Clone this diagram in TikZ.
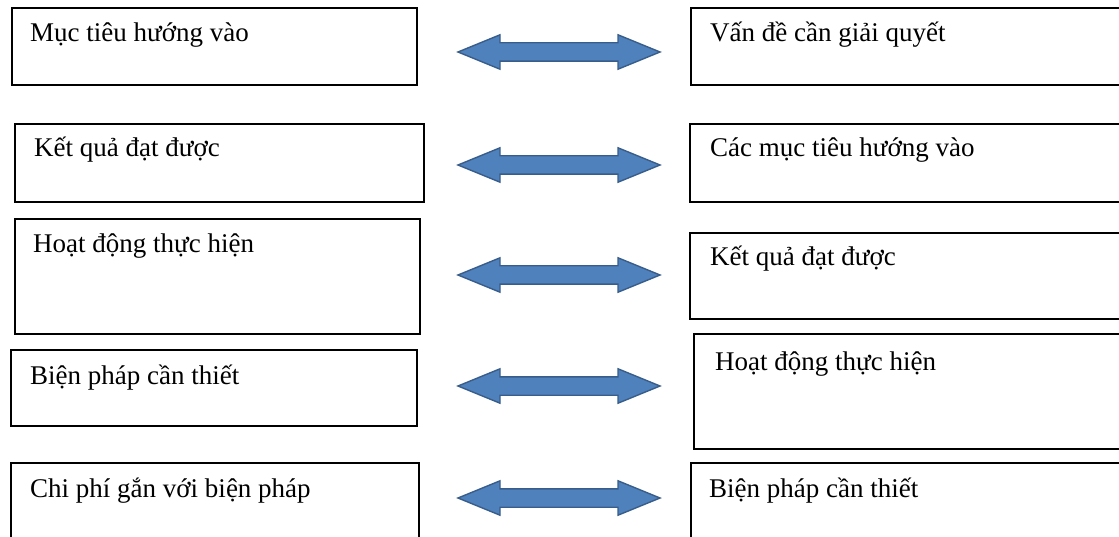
\documentclass[tikz,border=0pt]{standalone}
\usepackage{fontspec}
\setmainfont{Liberation Serif}
\definecolor{arrowfill}{HTML}{4F81BD}
\definecolor{arrowline}{HTML}{385D8A}
\begin{document}
\begin{tikzpicture}[x=1pt,y=-1pt,
  box/.style={draw=black, line width=1.8pt, rectangle, inner sep=0pt, anchor=north west},
  txt/.style={anchor=base west, inner sep=0pt, font=\fontsize{27}{32}\selectfont},
  dbl/.pic={
    \filldraw[fill=arrowfill, draw=arrowline, line width=1.4pt, line join=miter]
      (-101,0) -- (-59,-17.2) -- (-59,-9.2) -- (59,-9.2) -- (59,-17.2)
      -- (101,0) -- (59,17.2) -- (59,9.2) -- (-59,9.2) -- (-59,17.2) -- cycle;
  }]
\useasboundingbox (0,0) rectangle (1119,537);
\clip (0,0) rectangle (1119,537);

% left column
\node[box, minimum width=405, minimum height=77]  (l1) at (11,7)   {};
\node[box, minimum width=409, minimum height=78]  (l2) at (14,123) {};
\node[box, minimum width=405, minimum height=115] (l3) at (14,218) {};
\node[box, minimum width=406, minimum height=76]  (l4) at (10,349) {};
\node[box, minimum width=408, minimum height=90]  (l5) at (10,462) {};

% right column (runs past the right edge)
\node[box, minimum width=440, minimum height=77]  (r1) at (690,7)   {};
\node[box, minimum width=440, minimum height=78]  (r2) at (689,123) {};
\node[box, minimum width=440, minimum height=86]  (r3) at (689,232) {};
\node[box, minimum width=440, minimum height=115] (r4) at (693,333) {};
\node[box, minimum width=440, minimum height=90]  (r5) at (690,462) {};

% labels
\node[txt] (l1t) at ([xshift=19pt,yshift=-35pt]l1.north west) {Mục tiêu hướng vào};
\node[txt] (l2t) at ([xshift=20pt,yshift=-34pt]l2.north west) {Kết quả đạt được};
\node[txt] (l3t) at ([xshift=19pt,yshift=-35pt]l3.north west) {Hoạt động thực hiện};
\node[txt] (l4t) at ([xshift=20pt,yshift=-35pt]l4.north west) {Biện pháp cần thiết};
\node[txt] (l5t) at ([xshift=20pt,yshift=-35pt]l5.north west) {Chi phí gắn với biện pháp};

\node[txt] (r1t) at ([xshift=20pt,yshift=-35pt]r1.north west) {Vấn đề cần giải quyết};
\node[txt] (r2t) at ([xshift=21pt,yshift=-34pt]r2.north west) {Các mục tiêu hướng vào};
\node[txt] (r3t) at ([xshift=21pt,yshift=-34pt]r3.north west) {Kết quả đạt được};
\node[txt] (r4t) at ([xshift=22pt,yshift=-37pt]r4.north west) {Hoạt động thực hiện};
\node[txt] (r5t) at ([xshift=19pt,yshift=-35pt]r5.north west) {Biện pháp cần thiết};

% double arrows between the columns
\coordinate (a1) at (559,52);
\coordinate (a2) at (559,165);
\coordinate (a3) at (559,275);
\coordinate (a4) at (559,386);
\coordinate (a5) at (559,498);
\foreach \a in {a1,a2,a3,a4,a5} { \pic at (\a) {dbl}; }
\end{tikzpicture}
\end{document}
